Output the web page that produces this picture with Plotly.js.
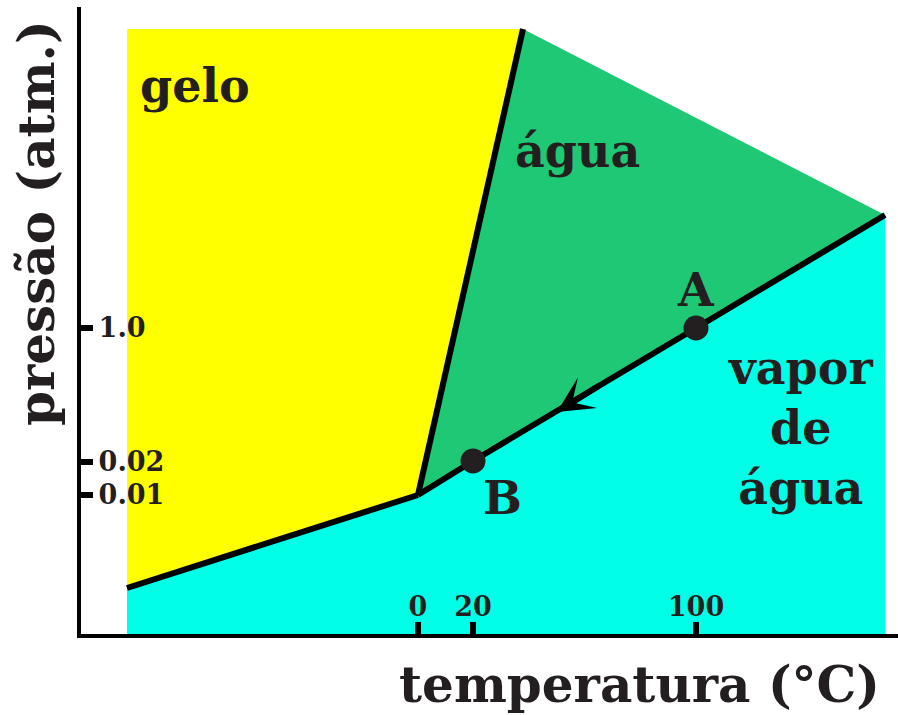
<!DOCTYPE html>
<html>
<head>
<meta charset="utf-8">
<script src="https://cdn.plot.ly/plotly-3.0.1.min.js"></script>
<style>html,body{margin:0;padding:0;background:#fff;}#chart{width:898px;height:715px;}</style>
</head>
<body>
<div id="chart"></div>
<script>
// Schematic phase diagram of water (not to scale)
const tempTickLabels = ['0', '20', '100'];
const tempTickPos = [337, 392, 615];
const presTickLabels = ['1.0', '0.02', '0.01'];
const presTickPos = [306, 172, 139];

// regions (schematic coordinates)
const iceX = [46, 442, 337, 46];
const iceY = [605, 605, 139, 46];
const liquidX = [442, 804, 337];
const liquidY = [605, 419, 139];
const vaporX = [46, 337, 804, 804, 46];
const vaporY = [46, 139, 419, 0, 0];

// phase boundaries
const fusionX = [337, 442];
const fusionY = [139, 605];
const sublimX = [46, 337];
const sublimY = [46, 139];
const vaporizX = [337, 392, 615, 804];
const vaporizY = [139, 173, 306, 419];

// marked states
const pointLabels = ['A', 'B'];
const pointX = [615, 392];
const pointY = [306, 173];

// arrow from A towards B along the curve
const arrowTail = [519, 249];
const arrowTip = [476, 222];

const FONT = 'DejaVu Serif';
const TXT = '#231f20';

const traces = [
  {x: iceX, y: iceY, fill: 'toself', fillcolor: '#ffff00', mode: 'none', type: 'scatter'},
  {x: liquidX, y: liquidY, fill: 'toself', fillcolor: '#1fc874', mode: 'none', type: 'scatter'},
  {x: vaporX, y: vaporY, fill: 'toself', fillcolor: '#00ffe6', mode: 'none', type: 'scatter'},
  {x: fusionX, y: fusionY, mode: 'lines', line: {color: '#000', width: 6}, type: 'scatter'},
  {x: sublimX, y: sublimY, mode: 'lines', line: {color: '#000', width: 6}, type: 'scatter'},
  {x: vaporizX, y: vaporizY, mode: 'lines', line: {color: '#000', width: 6}, type: 'scatter'},
  {x: pointX, y: pointY, mode: 'markers', marker: {color: TXT, size: 25}, type: 'scatter'}
];

const big = {family: FONT, size: 46, color: TXT, weight: 'bold'};
const titleFont = {family: FONT, size: 50, color: TXT, weight: 'bold'};
const labelOffsets = [[0, 38], [29, -37]];

const annotations = [
  {x: 114, y: 548, text: 'gelo', showarrow: false, font: big, xanchor: 'center', yanchor: 'middle'},
  {x: 496, y: 483, text: 'água', showarrow: false, font: big, xanchor: 'center', yanchor: 'middle'},
  {x: 719, y: 206, text: 'vapor<br>de<br>água', showarrow: false, font: big, xanchor: 'center', yanchor: 'middle', align: 'center'},
  {xref: 'paper', yref: 'paper', x: 0.683, y: -0.081, text: 'temperatura (°C)', showarrow: false, font: titleFont, xanchor: 'center', yanchor: 'middle'},
  {xref: 'paper', yref: 'paper', x: -0.055, y: 0.6555, text: 'pressão (atm.)', showarrow: false, font: titleFont, textangle: -90, xanchor: 'center', yanchor: 'middle'},
  {x: arrowTip[0], y: arrowTip[1], ax: arrowTail[0], ay: arrowTail[1], axref: 'x', ayref: 'y',
   text: '', showarrow: true, arrowhead: 3, arrowwidth: 6, arrowsize: 1.0, arrowcolor: '#000', standoff: 0}
];
pointLabels.forEach((t, i) => {
  annotations.push({x: pointX[i] + labelOffsets[i][0], y: pointY[i] + labelOffsets[i][1], text: t, showarrow: false,
    font: big, xanchor: 'center', yanchor: 'middle'});
});

const layout = {
  width: 898, height: 715,
  margin: {l: 81, r: 0, t: 7, b: 81, pad: 0},
  paper_bgcolor: '#fff', plot_bgcolor: 'rgba(0,0,0,0)',
  showlegend: false,
  hovermode: false,
  xaxis: {
    range: [0, 817], showgrid: false, zeroline: false,
    showline: true, linecolor: '#000', linewidth: 4,
    tickmode: 'array', tickvals: tempTickPos, ticktext: tempTickLabels,
    ticks: 'inside', ticklen: 12, tickwidth: 6, tickcolor: '#000',
    ticklabelposition: 'inside', ticklabelstandoff: 3,
    tickfont: {family: FONT, size: 27, color: TXT, weight: 'bold'},
    fixedrange: true
  },
  yaxis: {
    range: [0, 627], showgrid: false, zeroline: false,
    showline: true, linecolor: '#000', linewidth: 4,
    tickmode: 'array', tickvals: presTickPos, ticktext: presTickLabels,
    ticks: 'inside', ticklen: 12, tickwidth: 6, tickcolor: '#000',
    ticklabelposition: 'inside', ticklabelstandoff: 8,
    tickfont: {family: FONT, size: 27, color: TXT, weight: 'bold'},
    fixedrange: true
  },
  annotations: annotations
};

Plotly.newPlot('chart', traces, layout, {displayModeBar: false, staticPlot: true});
</script>
</body>
</html>
